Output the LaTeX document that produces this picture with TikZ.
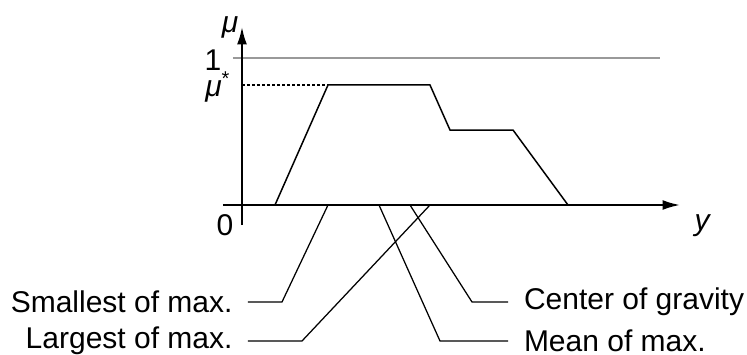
\documentclass[tikz,border=0pt]{standalone}
\usepackage{fontspec}
\setmainfont{Liberation Sans}
\usetikzlibrary{arrows.meta}

\begin{document}
\begin{tikzpicture}[x=0.4pt, y=0.4pt,
    axis/.style={line width=0.8pt, -{Latex[length=7pt, width=4pt]}},
    mf/.style={line width=0.6pt, line join=miter},
    lead/.style={line width=0.5pt},
    lbl/.style={font=\fontsize{12}{14}\selectfont, inner sep=0pt},
    defz/.style={font=\fontsize{12}{14}\selectfont, inner ysep=0pt}
]
\useasboundingbox (-242,-149) rectangle (505,205);
% axes
\coordinate (xstart) at (-19,0);
\coordinate (xend) at (438,0);
\coordinate (ystart) at (0,-20);
\coordinate (yend) at (0,178);
\draw[gray!80, line width=0.6pt] (-9,147) -- (418,147);
\draw[axis] (xstart) -- (xend);
\draw[axis] (ystart) -- (yend);
\node[lbl] (mu) at (-12,178) {\textit{μ}};
\node[lbl] (one) at (-29,145) {1};
\node[lbl] (mustar) at (-24,118) {\textit{μ}\textsuperscript{*}};
\node[lbl] (zero) at (-17,-20) {0};
\node[lbl] (yvar) at (461,-21) {\textit{y}};
% output set and its height
\coordinate (top) at (86,120);
\draw[dash pattern=on 1.2pt off 0.8pt, line width=0.7pt] (0,120) -- (top);
\draw[mf] (33,0) -- (top) -- (188,120) -- (208,75) -- (271,75) -- (326,0);
% defuzzified values on the y axis
\coordinate (som) at (86,0);
\coordinate (mom) at (137,0);
\coordinate (cog) at (168,0);
\coordinate (lom) at (188,0);
\node[defz, anchor=east, inner xsep=6pt] (smallest) at (6,-97) {Smallest of max.};
\node[defz, anchor=east, inner xsep=6pt] (largest) at (6,-136) {Largest of max.};
\node[defz, anchor=west, inner xsep=6.2pt] (gravity) at (266,-97) {Center of gravity};
\node[defz, anchor=west, inner xsep=6.2pt] (mean) at (266,-136) {Mean of max.};
\draw[lead] (som) -- (40,-97) -- (smallest.east);
\draw[lead] (lom) -- (60,-136) -- (largest.east);
\draw[lead] (cog) -- (230,-97) -- (gravity.west);
\draw[lead] (mom) -- (198,-136) -- (mean.west);
\end{tikzpicture}
\end{document}
